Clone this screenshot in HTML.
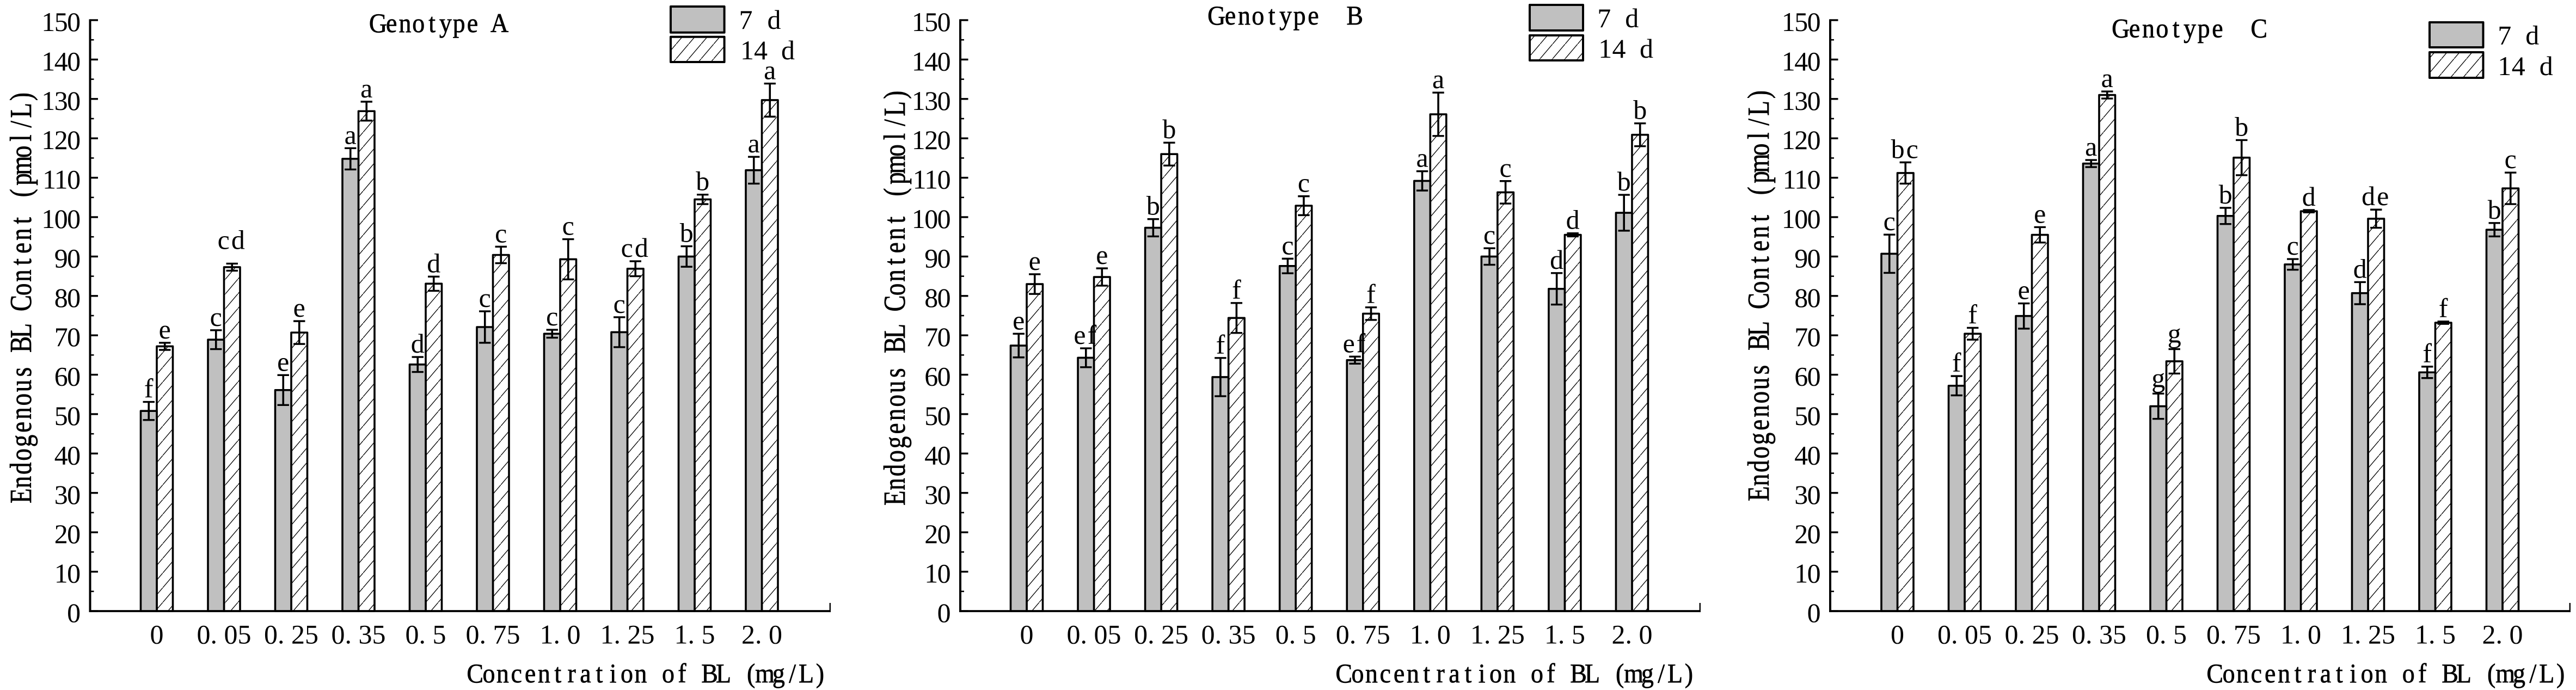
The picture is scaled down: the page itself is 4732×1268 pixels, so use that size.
<!DOCTYPE html>
<html lang="en">
<head>
<meta charset="utf-8">
<title>Endogenous BL Content by Genotype</title>
<style>
html,body{margin:0;padding:0;background:#fff;}
svg{display:block;}
text{font-family:"Liberation Serif","Noto Serif CJK SC",serif;font-size:50px;fill:#000;}
.tick-y{letter-spacing:-1.6px;text-anchor:end;}
.tick-x,.sig{text-anchor:middle;}
.sig-wide{letter-spacing:3px;}
.mono{text-anchor:middle;}
.heavy{stroke:#000;stroke-width:0.7px;}
</style>
</head>
<body>
<svg id="figure" xmlns="http://www.w3.org/2000/svg" width="4732" height="1268" viewBox="0 0 4732 1268">
  <defs>
    <pattern id="hatch" patternUnits="userSpaceOnUse" width="23" height="27">
      <line x1="-2.3" y1="29.7" x2="25.3" y2="-2.7" stroke="#000" stroke-width="1.3"/>
    </pattern>
  </defs>
  <rect width="4732" height="1268" fill="#fff"/>

  <g id="panel-a">
    <text class="mono heavy" data-pitch="24.8" data-sx="0.92" transform="translate(682,59) scale(0.92,1)">Genotype A</text>
    <text class="mono heavy" data-pitch="25.3" data-sx="0.9" transform="translate(57,924) rotate(-90) scale(0.9,1.12)">Endogenous BL Content (pmol/L)</text>
    <text class="mono heavy" data-pitch="25.35" data-sx="0.92" transform="translate(860,1254) scale(0.92,1)">Concentration of BL (mg/L)</text>
    <g>
      <rect x="1232" y="12" width="98.6" height="47.7" fill="#c0c0c0" stroke="#000" stroke-width="4" stroke-linejoin="round"/>
      <rect x="1232" y="67.7" width="98.6" height="46.3" fill="url(#hatch)" stroke="#000" stroke-width="4" stroke-linejoin="round"/>
      <text class="mono" data-pitch="26" data-sx="1" transform="translate(1357,53)">7 d</text>
      <text class="mono" data-pitch="25" data-sx="1" transform="translate(1360,109)">14 d</text>
    </g>
  </g>

  <g id="panel-b">
    <text class="mono heavy" data-pitch="25.4" data-sx="0.92" xml:space="preserve" transform="translate(2222,45) scale(0.92,1)">Genotype  B</text>
    <text class="mono heavy" data-pitch="25.55" data-sx="0.9" transform="translate(1662,928) rotate(-90) scale(0.9,1.12)">Endogenous BL Content (pmol/L)</text>
    <text class="mono heavy" data-pitch="25.35" data-sx="0.92" transform="translate(2456,1254) scale(0.92,1)">Concentration of BL (mg/L)</text>
    <g>
      <rect x="2810" y="9" width="98" height="47" fill="#c0c0c0" stroke="#000" stroke-width="4" stroke-linejoin="round"/>
      <rect x="2810" y="65" width="98" height="46" fill="url(#hatch)" stroke="#000" stroke-width="4" stroke-linejoin="round"/>
      <text class="mono" data-pitch="25.5" data-sx="1" transform="translate(2934,50)">7 d</text>
      <text class="mono" data-pitch="25.3" data-sx="1" transform="translate(2936,106)">14 d</text>
    </g>
  </g>

  <g id="panel-c">
    <text class="mono heavy" data-pitch="25.4" data-sx="0.92" xml:space="preserve" transform="translate(3883,68.6) scale(0.92,1)">Genotype  C</text>
    <text class="mono heavy" data-pitch="25.3" data-sx="0.9" transform="translate(3249,920) rotate(-90) scale(0.9,1.12)">Endogenous BL Content (pmol/L)</text>
    <text class="mono heavy" data-pitch="25.4" data-sx="0.92" transform="translate(4056,1254) scale(0.92,1)">Concentration of BL (mg/L)</text>
    <g>
      <rect x="4463" y="41" width="98.5" height="46" fill="#c0c0c0" stroke="#000" stroke-width="4" stroke-linejoin="round"/>
      <rect x="4463" y="96" width="98.5" height="47" fill="url(#hatch)" stroke="#000" stroke-width="4" stroke-linejoin="round"/>
      <text class="mono" data-pitch="25.5" data-sx="1" transform="translate(4588,81.6)">7 d</text>
      <text class="mono" data-pitch="25.5" data-sx="1" transform="translate(4588,138)">14 d</text>
    </g>
  </g>
</svg>

<script>
const categories = ["0","0.05","0.25","0.35","0.5","0.75","1.0","1.25","1.5","2.0"];
const yTickLabels = [0,10,20,30,40,50,60,70,80,90,100,110,120,130,140,150];

const a7Values  = [50.8,68.9,56.1,114.8,62.6,72.1,70.4,70.8,90.0,111.9];
const a7Errors  = [2.3,2.4,3.8,2.7,1.9,4.0,1.0,3.8,2.6,3.4];
const a7Letters = ["f","c","e","a","d","c","c","c","b","a"];
const a14Values  = [67.2,87.3,70.7,126.9,83.1,90.4,89.3,86.9,104.5,129.7];
const a14Errors  = [0.9,0.9,2.9,2.4,1.8,2.1,5.1,1.9,1.2,4.2];
const a14Letters = ["e","cd","e","a","d","c","c","cd","b","a"];

const b7Values  = [67.4,64.3,97.3,59.4,87.6,63.7,109.2,90.0,81.8,101.1];
const b7Errors  = [3.0,2.4,2.2,4.85,1.85,0.9,2.45,2.1,4.0,4.55];
const b7Letters = ["e","ef","b","f","c","ef","a","c","d","b"];
const b14Values  = [83.0,84.8,116.0,74.4,102.9,75.5,126.1,106.3,95.5,120.9];
const b14Errors  = [2.5,2.2,2.9,3.8,2.4,1.6,5.5,2.85,0.4,2.9];
const b14Letters = ["e","e","b","f","c","f","a","c","d","b"];

const c7Values  = [90.7,57.2,74.9,113.6,52.0,100.3,88.0,80.7,60.6,96.8];
const c7Errors  = [4.85,2.45,3.2,0.9,3.2,2.05,1.35,2.8,1.45,1.7];
const c7Letters = ["c","f","e","a","g","b","c","d","f","b"];
const c14Values  = [111.2,70.4,95.5,131.0,63.4,115.1,101.5,99.6,73.2,107.3];
const c14Errors  = [2.7,1.5,1.95,0.9,3.1,4.45,0.3,2.3,0.3,4.0];
const c14Letters = ["bc","f","e","a","g","b","d","de","f","c"];

const SVGNS = "http://www.w3.org/2000/svg";
const AXIS_Y = 1123, UNIT = 7.24, HALF_BAR = 29.5;

function yScale(v){ return AXIS_Y - v * UNIT; }
function xScale(panel, i){ return panel.firstCenter + i * panel.step; }

function make(parent, tag, attrs){
  const el = document.createElementNS(SVGNS, tag);
  for (const k in attrs) el.setAttribute(k, attrs[k]);
  parent.appendChild(el);
  return el;
}

function drawYAxis(g, panel){
  const axis = make(g, "g", {});
  
  
  const line = make(axis, "line", {x1:panel.axisX, x2:panel.axisX, y1:yScale(150)-1.6, y2:AXIS_Y+1.8, stroke:"#000","stroke-width":4});
  
  
  yTickLabels.forEach(function(v, i){
    const tick = make(axis, "line", {x1:panel.axisX, x2:panel.axisX+14.5, y1:yScale(v), y2:yScale(v), stroke:"#000","stroke-width":3.4});
    
    
    const label = make(axis, "text", {x:panel.axisX-19, y:yScale(v)+20, class:"tick-y"});
    
    
    label.textContent = String(v);
    if (i < yTickLabels.length - 1){
      const mid = (v + yTickLabels[i+1]) / 2;
      const minor = make(axis, "line", {x1:panel.axisX, x2:panel.axisX+7, y1:yScale(mid), y2:yScale(mid), stroke:"#000","stroke-width":2.6});
      
      
    }
  });
}

function drawXAxis(g, panel){
  const axis = make(g, "g", {});
  
  
  categories.forEach(function(cat, i){
    const label = make(axis, "text", {x:xScale(panel,i), y:1182.6, class:"tick-x"});
    
    
    label.textContent = cat.replace(".", ". ");
  });
  return axis;
}

function drawBar(g, x, value, fill){
  const bar = make(g, "rect", {
    x:x-HALF_BAR/2, y:yScale(value), width:HALF_BAR, height:AXIS_Y-yScale(value),
    fill:fill, stroke:"#000", "stroke-width":3.6, "stroke-linejoin":"round"
  });
  
  
}

function drawError(g, x, value, err){
  const top = yScale(value+err), bot = yScale(value-err);
  const stem = make(g, "line", {x1:x, x2:x, y1:top, y2:bot, stroke:"#000","stroke-width":3.6});
  
  
  const capTop = make(g, "line", {x1:x-10.7, x2:x+10.7, y1:top, y2:top, stroke:"#000","stroke-width":3.4});
  
  
  const capBot = make(g, "line", {x1:x-10.7, x2:x+10.7, y1:bot, y2:bot, stroke:"#000","stroke-width":3.4});
  
  
}

function drawLetter(g, x, value, err, letter, extra){
  const gap = (letter === "g" ? 12 : 8) + (extra || 0);
  const label = make(g, "text", {x:x, y:yScale(value+err)-gap, class:letter.length > 1 ? "sig sig-wide" : "sig"});
  
  
  label.textContent = letter;
}

function drawPanel(panel){
  const g = document.getElementById(panel.id);
  drawYAxis(g, panel);
  drawXAxis(g, panel);
  const bars = make(g, "g", {});
  
  
  categories.forEach(function(cat, i){
    const c = xScale(panel, i);
    const x7 = c - HALF_BAR/2, x14 = c + HALF_BAR/2;
    drawBar(bars, x14, panel.v14[i], "url(#hatch)");
    drawBar(bars, x7, panel.v7[i], "#c0c0c0");
    drawError(bars, x7, panel.v7[i], panel.e7[i]);
    drawError(bars, x14, panel.v14[i], panel.e14[i]);
    drawLetter(bars, x7, panel.v7[i], panel.e7[i], panel.l7[i], 0);
    drawLetter(bars, x14, panel.v14[i], panel.e14[i], panel.l14[i], panel.lift14 && panel.lift14[i]);
  });
  const base = make(g, "line", {x1:panel.axisX-2, x2:panel.axisEnd, y1:AXIS_Y, y2:AXIS_Y, stroke:"#000","stroke-width":3.8});
  
  
  const endTick = make(g, "line", {x1:panel.axisEnd-1.2, x2:panel.axisEnd-1.2, y1:AXIS_Y-15, y2:AXIS_Y+1.8, stroke:"#000","stroke-width":2.4});
  
  
}

drawPanel({id:"panel-a", axisX:165.5, axisEnd:1526, firstCenter:288, step:123.5,
  v7:a7Values, e7:a7Errors, l7:a7Letters, v14:a14Values, e14:a14Errors, l14:a14Letters, lift14:{1:19}});
drawPanel({id:"panel-b", axisX:1764, axisEnd:3124, firstCenter:1886, step:123.55,
  v7:b7Values, e7:b7Errors, l7:b7Letters, v14:b14Values, e14:b14Errors, l14:b14Letters});
drawPanel({id:"panel-c", axisX:3362, axisEnd:4722, firstCenter:3485.5, step:123.5,
  v7:c7Values, e7:c7Errors, l7:c7Letters, v14:c14Values, e14:c14Errors, l14:c14Letters});

document.querySelectorAll("text.mono").forEach(function(t){
  const pitch = parseFloat(t.getAttribute("data-pitch"));
  const sx = parseFloat(t.getAttribute("data-sx"));
  const xs = [];
  for (let i = 0; i < t.textContent.length; i++) xs.push(((i + 0.5) * pitch / sx).toFixed(1));
  t.setAttribute("x", xs.join(" "));
  t.setAttribute("y", "0");
});
</script>
</body>
</html>
